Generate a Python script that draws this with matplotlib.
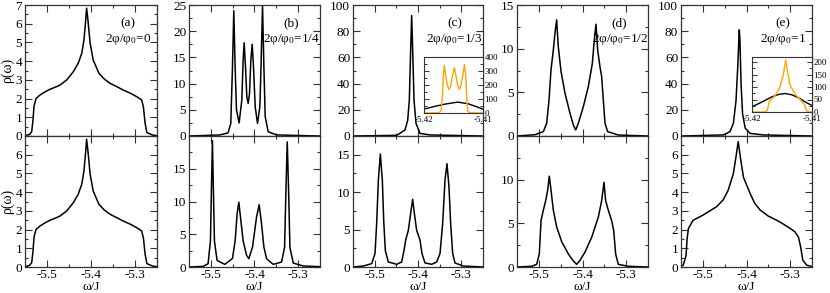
import matplotlib
matplotlib.use("Agg")
import matplotlib.pyplot as plt
import numpy as np
from matplotlib.ticker import MultipleLocator, FixedLocator

plt.rcParams['font.family'] = ['Liberation Serif', 'DejaVu Serif']
plt.rcParams['mathtext.fontset'] = 'custom'
plt.rcParams['mathtext.rm'] = 'Liberation Serif'
plt.rcParams['mathtext.it'] = 'Liberation Serif:italic'
plt.rcParams['axes.unicode_minus'] = False

# ---------------- data ----------------
# (a) 2phi/phi0 = 0  (top and bottom rows look identical)
w_a = [-5.55, -5.540, -5.5348, -5.5320, -5.5295, -5.525, -5.516, -5.505, -5.493, -5.480, -5.470,
       -5.455, -5.440, -5.429, -5.421, -5.416, -5.412, -5.410, -5.407, -5.402, -5.395, -5.382,
       -5.370, -5.357, -5.340, -5.327, -5.310, -5.296, -5.285, -5.281, -5.277, -5.273, -5.26, -5.25]
rho_a = [0.02, 0.08, 0.23, 0.8, 1.6, 2.0, 2.19, 2.35, 2.5, 2.62, 2.73,
         3.0, 3.44, 3.89, 4.42, 5.13, 6.2, 6.83, 6.2, 4.96, 4.06, 3.35,
         3.05, 2.82, 2.62, 2.46, 2.28, 2.1, 1.93, 1.57, 0.68, 0.18, 0.05, 0.02]

# (b) 2phi/phi0 = 1/4, top row
w_b_top = [-5.55, -5.4795, -5.4604, -5.4543, -5.4505, -5.4474, -5.4443, -5.4413, -5.4352,
           -5.4290, -5.4260, -5.4237, -5.4206, -5.4176, -5.4145, -5.4114, -5.4084, -5.4053,
           -5.4023, -5.3984, -5.3931, -5.3877, -5.3847, -5.3816, -5.3785, -5.3755, -5.3686,
           -5.3495, -5.25]
rho_b_top = [0.0, 0.2, 0.6, 2.4, 13.0, 23.9, 13.0, 5.0, 2.5,
             6.9, 14.5, 17.8, 13.2, 7.5, 6.2, 8.1, 14.5, 17.5,
             13.2, 5.6, 2.4, 5.6, 14.5, 25.0, 13.2, 3.7, 0.8,
             0.2, 0.0]

# (b) bottom row
w_b_bot = [-5.55, -5.5331, -5.5178, -5.5063, -5.5009, -5.4987, -5.4964, -5.4941, -5.4918,
           -5.4857, -5.4681, -5.4505, -5.4443, -5.4398, -5.4359, -5.4321, -5.4260, -5.4183,
           -5.4130, -5.4045, -5.3954, -5.3893, -5.3839, -5.3785, -5.3724, -5.3571, -5.3380,
           -5.3311, -5.3280, -5.3250, -5.3219, -5.3189, -5.3112, -5.2883, -5.25]
rho_b_bot = [0.0, 0.05, 0.1, 0.5, 4.0, 11.7, 19.3, 11.7, 4.0,
             1.0, 0.4, 1.3, 4.0, 8.1, 9.9, 7.6, 4.0, 1.8,
             1.27, 3.05, 7.6, 9.5, 6.6, 3.05, 1.27, 0.4, 0.76,
             3.0, 11.7, 19.1, 11.7, 3.0, 0.6, 0.15, 0.05]

# (c) 2phi/phi0 = 1/3, top row
w_c_top = [-5.55, -5.4492, -5.430, -5.4238, -5.420, -5.4169, -5.4146, -5.4123, -5.4092,
           -5.4046, -5.3954, -5.3723, -5.25]
rho_c_top = [0.0, 0.5, 4.6, 12.0, 27.5, 66.0, 92.0, 66.0, 27.5,
             9.7, 2.0, 0.8, 0.0]

# (c) inset
w_c_in_black = [-5.42, -5.4182, -5.4165, -5.4143, -5.4125, -5.41]
rho_c_in_black = [28, 47, 63, 78, 66, 28]
w_c_in_orange = [-5.42, -5.4176, -5.41714, -5.41691, -5.41674, -5.41657, -5.41634, -5.41606,
                 -5.41577, -5.41549, -5.4152, -5.41486, -5.41451, -5.41429, -5.414, -5.41371,
                 -5.41343, -5.41314, -5.41291, -5.41274, -5.41257, -5.41217, -5.41]
rho_c_in_orange = [0, 1, 12, 94, 259, 341, 270, 200,
                   168, 190, 260, 324, 250, 195, 168, 200,
                   270, 346, 260, 94, 12, 1, 0]

# (c) bottom row
w_c_bot = [-5.55, -5.5262, -5.5069, -5.4992, -5.4954, -5.4915, -5.4869, -5.4823, -5.4792,
           -5.4754, -5.4685, -5.4492, -5.4377, -5.4323, -5.4285, -5.4223, -5.4169, -5.4123,
           -5.4085, -5.4031, -5.3954, -5.3908, -5.3838, -5.3685, -5.3569, -5.3492, -5.3431,
           -5.3377, -5.3331, -5.3285, -5.3246, -5.3200, -5.3146, -5.2954, -5.25]
rho_c_bot = [0.0, 0.13, 0.45, 1.8, 5.8, 11.6, 15.1, 11.6, 6.3,
             2.2, 0.67, 0.36, 0.67, 2.2, 3.6, 4.9, 7.2, 9.05,
             7.2, 4.9, 3.6, 1.8, 0.54, 0.36, 0.67, 1.8, 5.8,
             11.6, 13.8, 10.7, 5.8, 1.8, 0.54, 0.13, 0.0]

# (d) 2phi/phi0 = 1/2, top row
w_d_top = [-5.55, -5.5088, -5.4897, -5.4821, -5.4767, -5.4721, -5.4668, -5.4630, -5.4592,
           -5.4554, -5.4492, -5.4401, -5.4286, -5.4210, -5.4156, -5.4096, -5.3981, -5.3867,
           -5.3775, -5.3729, -5.3691, -5.3653, -5.3599, -5.3561, -5.3523, -5.3485, -5.3424,
           -5.3180, -5.25]
rho_d_top = [0.0, 0.15, 0.5, 1.45, 4.1, 7.6, 9.85, 11.8, 13.3,
             10.2, 7.4, 4.9, 2.6, 1.26, 0.69, 1.45, 3.36, 5.65,
             8.3, 11.0, 12.8, 9.85, 7.9, 6.8, 4.1, 1.45, 0.5,
             0.11, 0.0]

# (d) bottom row
w_d_bot = [-5.55, -5.5164, -5.5050, -5.4989, -5.4950, -5.4897, -5.4843, -5.4798, -5.4760,
           -5.4721, -5.4668, -5.4592, -5.4477, -5.4325, -5.4210, -5.4134, -5.4057, -5.3943,
           -5.3790, -5.3638, -5.3561, -5.3508, -5.3470, -5.3409, -5.3332, -5.3286, -5.3241,
           -5.3180, -5.2951, -5.25]
rho_d_bot = [0.0, 0.08, 0.3, 1.5, 5.3, 6.5, 7.6, 8.8, 10.4,
             8.8, 6.5, 4.6, 2.9, 1.5, 0.7, 0.3, 0.76, 1.7,
             3.4, 5.7, 7.6, 9.7, 7.6, 6.5, 5.3, 4.2, 1.5,
             0.3, 0.08, 0.0]

# (e) 2phi/phi0 = 1, top row
w_e_top = [-5.55, -5.453, -5.438, -5.430, -5.424, -5.420, -5.417, -5.4165, -5.415, -5.4125,
           -5.409, -5.403, -5.392, -5.361, -5.25]
rho_e_top = [0.0, 0.8, 3.3, 9.7, 27.0, 53.0, 78.0, 81.0, 73.0, 40.0,
             17.0, 6.0, 2.0, 0.8, 0.0]

# (e) inset
w_e_in_black = [-5.42, -5.41843, -5.41674, -5.41562, -5.41449, -5.41337, -5.41225, -5.41112, -5.41]
rho_e_in_black = [21, 39, 60, 70, 74, 69, 57, 40, 26]
w_e_in_orange = [-5.42, -5.41787, -5.41742, -5.41719, -5.41685, -5.41618, -5.41534, -5.41478,
                 -5.41438, -5.41404, -5.41365, -5.41281, -5.41197, -5.41124, -5.41096, -5.41056, -5.41]
rho_e_in_orange = [0, 0, 7, 36, 50, 64, 100, 150,
                   207, 157, 107, 71, 50, 29, 7, 0, 0]

# (e) bottom row
w_e_bot = [-5.55, -5.545, -5.5385, -5.536, -5.533, -5.522, -5.499, -5.468, -5.453, -5.442,
           -5.430, -5.424, -5.419, -5.413, -5.407, -5.392, -5.381, -5.369, -5.350, -5.331,
           -5.316, -5.300, -5.289, -5.281, -5.276, -5.271, -5.262, -5.25]
rho_e_bot = [0.02, 0.1, 0.6, 1.5, 2.06, 2.5, 2.78, 3.23, 3.6, 4.1,
             5.0, 5.9, 6.7, 5.7, 4.8, 3.94, 3.4, 3.05, 2.72, 2.5,
             2.3, 2.06, 1.88, 1.6, 1.07, 0.36, 0.1, 0.02]

panel_letters = ['(a)', '(b)', '(c)', '(d)', '(e)']
flux_labels = ['0', '1/4', '1/3', '1/2', '1']

top_curves = [(w_a, rho_a), (w_b_top, rho_b_top), (w_c_top, rho_c_top),
              (w_d_top, rho_d_top), (w_e_top, rho_e_top)]
bot_curves = [(w_a, rho_a), (w_b_bot, rho_b_bot), (w_c_bot, rho_c_bot),
              (w_d_bot, rho_d_bot), (w_e_bot, rho_e_bot)]

top_ylim = [7, 25, 100, 15, 100]
top_major = [1, 5, 20, 5, 20]
bot_ylim = [7, 20, 17.5, 15, 7]
bot_major = [1, 5, 5, 5, 1]

# ---------------- layout ----------------
W, H = 830, 293
fig = plt.figure(figsize=(W / 100, H / 100), dpi=100)
col_px = [(25, 157), (189, 320), (353, 483), (517, 648), (681, 812)]
row_px = [(5, 136), (136, 267)]

def rect(x0, x1, y0, y1):
    return [x0 / W, 1 - y1 / H, (x1 - x0) / W, (y1 - y0) / H]

fs = 9.5
lw = 1.1

def style(ax, major, ylim, show_x, hide_top_label):
    ax.set_xlim(-5.55, -5.25)
    ax.xaxis.set_major_locator(FixedLocator([-5.5, -5.4, -5.3]))
    ax.xaxis.set_minor_locator(FixedLocator([-5.45, -5.35]))
    ticks = list(np.arange(0, ylim + 1e-9, major))
    ax.set_yticks(ticks)
    ax.yaxis.set_minor_locator(MultipleLocator(major / 2))
    ax.tick_params(which='both', direction='in', top=True, right=True, labelsize=fs,
                   width=0.8, color='#333333', pad=2)
    ax.tick_params(axis='x', pad=1.5)
    ax.tick_params(which='major', length=5)
    ax.tick_params(which='minor', length=2.5)
    for s in ax.spines.values():
        s.set_linewidth(0.9)
        s.set_color('#333333')
    if show_x:
        ax.set_xticklabels(['-5.5', '-5.4', '-5.3'])
    else:
        ax.set_xticklabels([])
    labels = []
    for t in ticks:
        if hide_top_label and abs(t - ylim) < 1e-9:
            labels.append('')
        else:
            labels.append('%g' % t)
    ax.set_yticklabels(labels)
    ax.set_ylim(0, ylim)

for i in range(5):
    x0, x1 = col_px[i]
    # top row
    ax = fig.add_axes(rect(x0, x1, *row_px[0]))
    w, r = top_curves[i]
    ax.plot(w, r, color='black', lw=lw)
    style(ax, top_major[i], top_ylim[i], False, False)
    ax.text(0.78, 0.86, panel_letters[i], transform=ax.transAxes, ha='center',
            va='center', fontsize=fs)
    ax.text(0.78 if i != 3 else 0.79, 0.74,
            r'2φ/φ$_0$=' + flux_labels[i], transform=ax.transAxes, ha='center',
            va='center', fontsize=fs)
    if i == 0:
        ax.set_ylabel('ρ(ω)', fontsize=10)
        ax.yaxis.set_label_coords(-0.085, 0.5)
    # bottom row
    ax2 = fig.add_axes(rect(x0, x1, *row_px[1]))
    w, r = bot_curves[i]
    ax2.plot(w, r, color='black', lw=lw)
    style(ax2, bot_major[i], bot_ylim[i], True, True)
    ax2.set_xlabel('ω/J', fontsize=9.5)
    ax2.xaxis.set_label_coords(0.5, -0.108)
    if i == 0:
        ax2.set_ylabel('ρ(ω)', fontsize=10)
        ax2.yaxis.set_label_coords(-0.085, 0.5)

# ---------------- insets ----------------
def inset(xpx, ypx, wb, rb, wo, ro, ymax, major):
    ax = fig.add_axes(rect(xpx[0], xpx[1], ypx[0], ypx[1]))
    ax.plot(wb, rb, color='black', lw=1.0)
    ax.plot(wo, ro, color='#ffa500', lw=1.0)
    ax.set_xlim(-5.42, -5.41)
    ax.set_xticks([-5.42, -5.41])
    ax.set_xticklabels(['-5.42', '-5.41'])
    ax.yaxis.set_major_locator(MultipleLocator(major))
    ax.yaxis.set_minor_locator(MultipleLocator(major / 2))
    ax.set_ylim(0, ymax)
    ax.yaxis.tick_right()
    ax.tick_params(which='both', direction='in', left=True, right=True,
                   labelsize=6.5, width=0.7, color='#333333', pad=1)
    ax.tick_params(axis='x', pad=2.5)
    ax.tick_params(which='major', length=3.5)
    ax.tick_params(which='minor', length=2)
    for s in ax.spines.values():
        s.set_linewidth(0.8)
        s.set_color('#333333')
    return ax

inset((424, 483), (57, 113), w_c_in_black, rho_c_in_black, w_c_in_orange, rho_c_in_orange, 400, 100)
inset((752, 812), (57, 112), w_e_in_black, rho_e_in_black, w_e_in_orange, rho_e_in_orange, 220, 50)

fig.savefig('out.png', dpi=100)
